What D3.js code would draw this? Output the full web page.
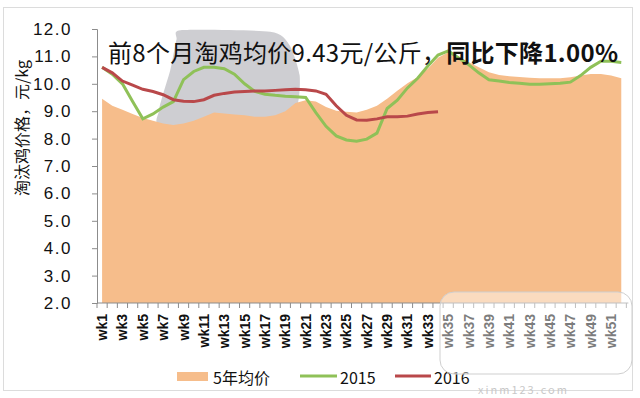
<!DOCTYPE html>
<html>
<head>
<meta charset="utf-8">
<script src="https://cdn.jsdelivr.net/npm/d3@7"></script>
<style>
  body { margin: 0; background: #fff; }
  svg { display: block; font-family: "Noto Sans CJK SC", "Noto Sans", sans-serif; }
</style>
</head>
<body>
<div id="chart"></div>
<script>
const W = 640, H = 398;

const weeks = d3.range(1, 53).map((i) => "wk" + i);
const yTicks = [2, 3, 4, 5, 6, 7, 8, 9, 10, 11, 12];

// 5年均价
const avg5 = [9.45, 9.2, 9.05, 8.9, 8.75, 8.65, 8.55, 8.5, 8.55, 8.65, 8.8, 8.95, 8.92, 8.88, 8.85, 8.8, 8.8, 8.85, 9.0, 9.3,
  9.4, 9.35, 9.15, 9.02, 8.98, 8.95, 9.05, 9.2, 9.45, 9.75, 10.02, 10.25, 10.55, 10.95, 11.15, 11.0, 10.8, 10.6, 10.42, 10.32,
  10.28, 10.25, 10.22, 10.2, 10.2, 10.2, 10.24, 10.3, 10.36, 10.36, 10.3, 10.2];
// 2015
const y2015 = [10.6, 10.35, 10.0, 9.35, 8.72, 8.9, 9.15, 9.35, 10.15, 10.45, 10.6, 10.6, 10.55, 10.35, 10.0, 9.72, 9.62, 9.58, 9.55, 9.53,
  9.5, 8.95, 8.45, 8.1, 7.95, 7.9, 7.98, 8.2, 9.1, 9.4, 9.85, 10.2, 10.65, 11.05, 11.2, 10.95, 10.7, 10.4, 10.15, 10.1,
  10.05, 10.02, 9.98, 9.98, 10.0, 10.02, 10.06, 10.3, 10.6, 10.82, 10.82, 10.78];
// 2016 (to wk34)
const y2016 = [10.6, 10.4, 10.1, 9.95, 9.8, 9.72, 9.6, 9.42, 9.36, 9.35, 9.42, 9.58, 9.65, 9.7, 9.72, 9.74, 9.74, 9.76, 9.78, 9.8,
  9.78, 9.74, 9.62, 9.2, 8.85, 8.68, 8.67, 8.72, 8.8, 8.8, 8.82, 8.9, 8.95, 8.98];

// grey blob behind the chart (week index, value)
const blob = [[8.86, 11.96], [17.5, 11.9], [19.4, 11.42], [20.4, 10.32], [20.2, 9.23], [18.98, 8.7],
  [7.19, 8.45], [6.6, 9.04], [7.7, 10.5], [8.3, 11.6]];

const margin = { top: 29, right: 14, bottom: 95, left: 97 };

const svg = d3.select("#chart").append("svg").attr("width", W).attr("height", H);

// outer frame
svg.append("rect").attr("x", 3.5).attr("y", 7.5).attr("width", 629).attr("height", 383)
  .attr("fill", "#fff").attr("stroke", "#dcdcdc");

const x = d3.scaleBand().domain(weeks).range([margin.left, margin.left + 52 * 10.18]);
const y = d3.scaleLinear().domain([2, 12]).range([H - margin.bottom, margin.top]);
const cx = (i) => x(weeks[i]) + x.bandwidth() / 2;
const bx = d3.scaleLinear().domain([1, 52]).range([cx(0), cx(51)]);

svg.append("path")
  .attr("d", d3.line().x((d) => bx(d[0])).y((d) => y(d[1])).curve(d3.curveCardinalClosed.tension(0.3))(blob))
  .attr("fill", "#c9c9cd").attr("opacity", 0.9);

svg.append("path")
  .attr("d", d3.area().x((d, i) => cx(i)).y0(y(2)).y1((d) => y(d))(avg5))
  .attr("fill", "#f6bd8b");

const line = d3.line().x((d, i) => cx(i)).y((d) => y(d));
svg.append("path").attr("d", line(y2015)).attr("fill", "none").attr("stroke", "#8fc158").attr("stroke-width", 3);
svg.append("path").attr("d", line(y2016)).attr("fill", "none").attr("stroke", "#b9484a").attr("stroke-width", 3);

// y axis
const yAxis = svg.append("g").attr("transform", `translate(${margin.left},0)`)
  .call(d3.axisLeft(y).tickValues(yTicks).tickSize(5).tickPadding(20).tickFormat(d3.format(".1f")));
yAxis.select(".domain").attr("stroke", "#8c8c8c");
yAxis.selectAll(".tick line").attr("stroke", "#8c8c8c");
yAxis.selectAll("text").attr("font-size", 17).attr("fill", "#111").attr("letter-spacing", 1.5)
  .attr("font-family", "Liberation Sans, sans-serif");

// x axis
const xg = svg.append("g").attr("transform", `translate(0,${y(2)})`);
xg.append("line").attr("x1", margin.left).attr("x2", margin.left + 52 * 10.18 + 2)
  .attr("stroke", "#8c8c8c");
xg.selectAll(".tk").data(d3.range(53)).enter().append("line")
  .attr("x1", (i) => margin.left + i * x.step()).attr("x2", (i) => margin.left + i * x.step())
  .attr("y1", 0).attr("y2", 5).attr("stroke", "#8c8c8c");
xg.selectAll(".lbl").data(weeks.filter((d, i) => i % 2 === 0)).enter().append("text")
  .attr("transform", (d) => `translate(${x(d) + x.bandwidth() / 2 + 5},11) rotate(-90)`)
  .attr("text-anchor", "end").attr("font-size", 14).attr("font-weight", "bold")
  .attr("font-family", "Liberation Sans, sans-serif").attr("fill", "#111")
  .text((d) => d);

// y title
svg.append("text").attr("transform", "translate(28,128) rotate(-90)")
  .attr("text-anchor", "middle").attr("font-size", 16).attr("fill", "#111")
  .text("淘汰鸡价格，元/kg");

// title
const t = svg.append("text").attr("x", 108).attr("y", 62).attr("font-size", 24).attr("fill", "#111")
  .attr("textLength", 510).attr("lengthAdjust", "spacing");
t.append("tspan").text("前8个月淘鸡均价9.43元/公斤，");
t.append("tspan").attr("font-weight", "bold").text("同比下降1.00%");

// legend
const lg = svg.append("g");
lg.append("rect").attr("x", 177).attr("y", 372).attr("width", 31).attr("height", 9).attr("fill", "#f6bd8b");
lg.append("text").attr("x", 213).attr("y", 384).attr("font-size", 16).attr("fill", "#111").text("5年均价");
lg.append("line").attr("x1", 300).attr("x2", 337).attr("y1", 376).attr("y2", 376).attr("stroke", "#8fc158").attr("stroke-width", 3);
lg.append("text").attr("x", 340).attr("y", 384).attr("font-size", 16).attr("fill", "#111").text("2015");
lg.append("line").attr("x1", 395).attr("x2", 431).attr("y1", 376).attr("y2", 376).attr("stroke", "#b9484a").attr("stroke-width", 3);
lg.append("text").attr("x", 434).attr("y", 384).attr("font-size", 16).attr("fill", "#111").text("2016");

// watermark
svg.append("rect").attr("x", 440).attr("y", 292).attr("width", 192).attr("height", 82).attr("rx", 14)
  .attr("fill", "#fff").attr("fill-opacity", 0.45).attr("stroke", "#cfcfcf");
svg.append("text").attr("x", 478).attr("y", 394).attr("font-size", 11).attr("fill", "#c8c8c8")
  .attr("letter-spacing", 2).text("xinm123.com");
</script>
</body>
</html>
